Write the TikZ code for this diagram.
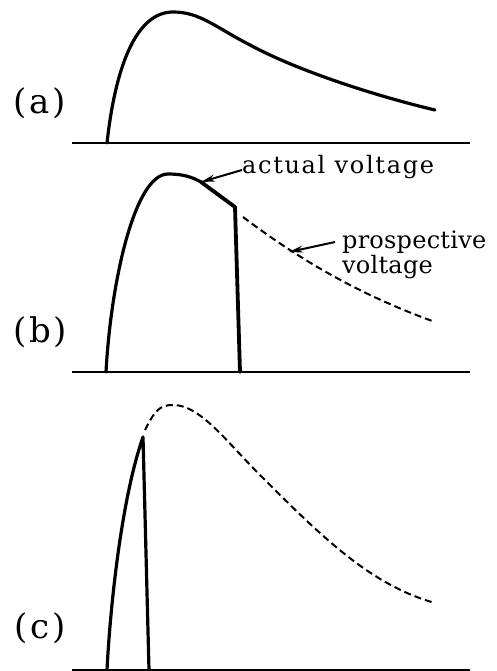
\documentclass[tikz,border=0pt]{standalone}
\usepackage{fontspec}
\newfontfamily\annfont[LetterSpace=7]{DejaVu Serif}
\newfontfamily\annfontb[LetterSpace=1]{DejaVu Serif}
\newfontfamily\lblfont[LetterSpace=8]{DejaVu Serif}
\usetikzlibrary{arrows.meta}
\begin{document}
\begin{tikzpicture}[x=1pt,y=-1pt,
  axis/.style={line width=2pt},
  wave/.style={line width=3.2pt,line cap=round,line join=round},
  prosp/.style={line width=2pt,dash pattern=on 7pt off 4pt},
  lbl/.style={font=\lblfont\fontsize{34}{34}\selectfont,inner sep=0pt},
  ann/.style={font=\annfont\fontsize{24}{20}\selectfont,inner sep=0pt,align=left},
  annb/.style={font=\annfontb\fontsize{24}{20}\selectfont,inner sep=0pt,align=left},
  pointer/.style={line width=2pt,-{Stealth[length=14pt,width=7pt]}}]
\useasboundingbox (0,0) rectangle (497,671);
% ---------- (a)
\draw[axis] (72,143) -- (470,143);
\draw[wave] (107,143) .. controls (115,70) and (135,12) .. (173,12)
  .. controls (200,12) and (215,27) .. (250,45)
  .. controls (300,72) and (380,97) .. (435,110);
\node[lbl] (la) at (40,103) {(a)};
% ---------- (b)
\draw[axis] (72,372) -- (470,372);
\draw[wave] (106,372) .. controls (111,280) and (135,174) .. (168,174)
  .. controls (183,174) and (192,177) .. (201,182);
\draw[wave,line width=3.8pt] (201,182) -- (235,207) -- (240,372);
\draw[prosp] (243,217) .. controls (300,260) and (360,295) .. (435,322);
\node[lbl] (lb) at (40,332) {(b)};
\node[ann,anchor=base west] (act) at (242,173) {actual voltage};
\node[annb,anchor=base west] (pro) at (342,273) {prospective\\voltage};
\coordinate (ta) at (201,182);
\coordinate (tp) at (289,252);
\draw[pointer] (act.west|-233,170) -- (ta);
\draw[pointer] (335,242) -- (tp);
% ---------- (c)
\draw[axis] (72,670) -- (470,670);
\draw[wave] (107,670) .. controls (110,610) and (121,500) .. (143,437) -- (149,670);
\draw[prosp] (145,430) .. controls (155,410) and (160,405) .. (173,405)
  .. controls (200,405) and (225,440) .. (260,475)
  .. controls (320,535) and (370,585) .. (435,603);
\node[lbl] (lc) at (40,628) {(c)};
\end{tikzpicture}
\end{document}
